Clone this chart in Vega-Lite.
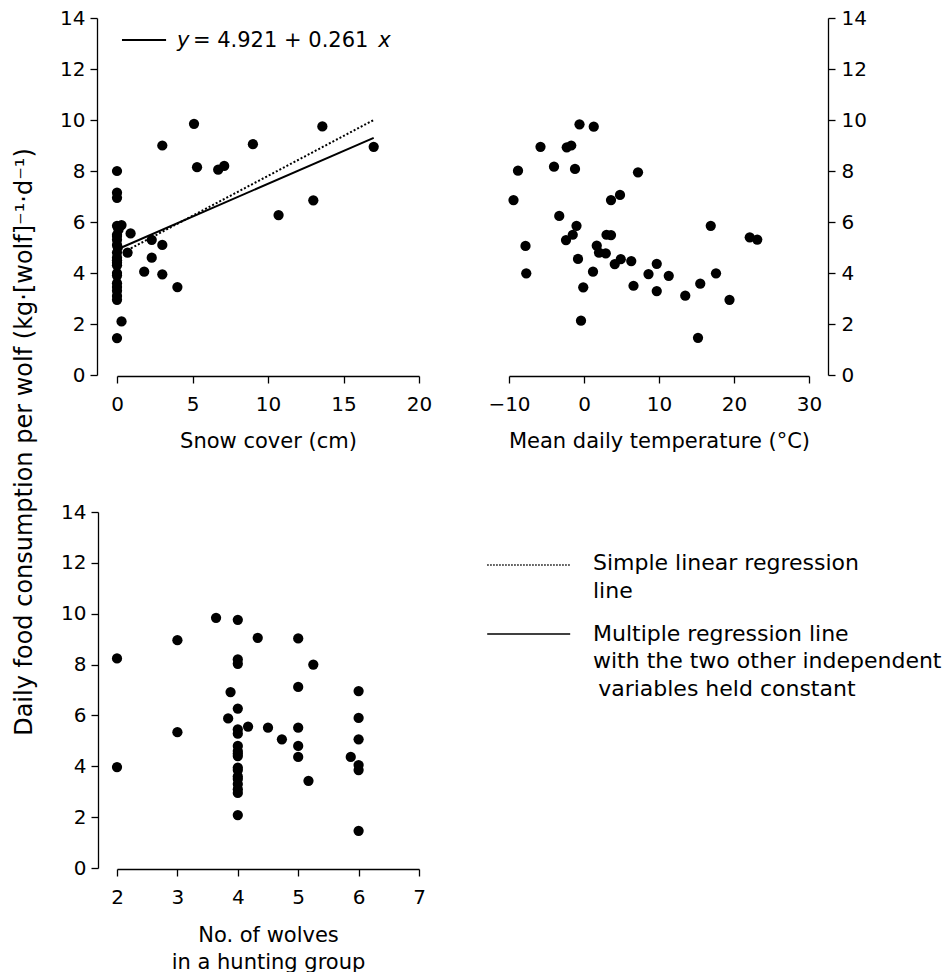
{
  "$schema": "https://vega.github.io/schema/vega-lite/v6.json",
  "padding": {"left": 12, "top": 8, "right": 0, "bottom": 0},
  "background": "white",
  "config": {
    "view": {"stroke": null},
    "font": "DejaVu Sans",
    "axis": {
      "domainColor": "black", "tickColor": "black", "labelColor": "black", "titleColor": "black",
      "labelFont": "DejaVu Sans", "titleFont": "DejaVu Sans",
      "labelFontSize": 20, "titleFontSize": 21, "titleFontWeight": "normal",
      "tickSize": 7, "domainWidth": 1.3, "tickWidth": 1.3, "grid": false,
      "labelFlush": false, "labelOverlap": false
    },
    "axisX": {"labelPadding": 11, "titlePadding": 16},
    "axisY": {"labelPadding": 5}
  },
  "title": {
    "text": "Daily food consumption per wolf (kg·[wolf]⁻¹·d⁻¹)",
    "orient": "left", "anchor": "middle", "dx": 48,
    "font": "DejaVu Sans", "fontSize": 24, "fontWeight": "normal", "color": "black", "offset": 23
  },
  "datasets": {
    "snow": [
      {"snow": 5.1, "food": 9.85}, {"snow": 3.0, "food": 9.0}, {"snow": 5.3, "food": 8.15}, {"snow": 6.7, "food": 8.05},
      {"snow": 7.1, "food": 8.2}, {"snow": 9.0, "food": 9.05}, {"snow": 13.6, "food": 9.75}, {"snow": 17.0, "food": 8.95},
      {"snow": 10.7, "food": 6.27}, {"snow": 13.0, "food": 6.85}, {"snow": 0.9, "food": 5.55}, {"snow": 2.3, "food": 5.3},
      {"snow": 3.0, "food": 5.1}, {"snow": 2.3, "food": 4.6}, {"snow": 0.7, "food": 4.8}, {"snow": 1.8, "food": 4.05},
      {"snow": 3.0, "food": 3.95}, {"snow": 4.0, "food": 3.45}, {"snow": 0.3, "food": 2.1}, {"snow": 0.0, "food": 1.45},
      {"snow": 0.0, "food": 8.0}, {"snow": 0.0, "food": 7.15}, {"snow": 0.0, "food": 6.95}, {"snow": 0.3, "food": 5.88},
      {"snow": 0.0, "food": 5.85}, {"snow": 0.1, "food": 5.7}, {"snow": 0.0, "food": 5.5}, {"snow": 0.0, "food": 5.45},
      {"snow": 0.0, "food": 5.3}, {"snow": 0.0, "food": 5.1}, {"snow": 0.05, "food": 5.0}, {"snow": 0.0, "food": 4.8},
      {"snow": 0.0, "food": 4.6}, {"snow": 0.0, "food": 4.5}, {"snow": 0.0, "food": 4.4}, {"snow": 0.0, "food": 4.3},
      {"snow": 0.0, "food": 4.0}, {"snow": 0.0, "food": 3.9}, {"snow": 0.0, "food": 3.6}, {"snow": 0.0, "food": 3.45},
      {"snow": 0.0, "food": 3.3}, {"snow": 0.0, "food": 3.1}, {"snow": 0.0, "food": 2.95}
    ],
    "temp": [
      {"temp": -0.6, "food": 9.83}, {"temp": 1.3, "food": 9.74}, {"temp": -5.8, "food": 8.95}, {"temp": -2.3, "food": 8.93},
      {"temp": -1.7, "food": 9.0}, {"temp": -8.8, "food": 8.01}, {"temp": -4.0, "food": 8.17}, {"temp": -1.2, "food": 8.08},
      {"temp": 7.2, "food": 7.95}, {"temp": -9.4, "food": 6.86}, {"temp": 3.6, "food": 6.86}, {"temp": 4.8, "food": 7.06},
      {"temp": -3.3, "food": 6.24}, {"temp": -1.0, "food": 5.85}, {"temp": -1.5, "food": 5.5}, {"temp": -2.4, "food": 5.29},
      {"temp": -7.8, "food": 5.06}, {"temp": 3.0, "food": 5.5}, {"temp": 3.6, "food": 5.49}, {"temp": 1.7, "food": 5.07},
      {"temp": 2.0, "food": 4.8}, {"temp": 2.9, "food": 4.77}, {"temp": -0.8, "food": 4.55}, {"temp": 4.1, "food": 4.35},
      {"temp": 4.9, "food": 4.54}, {"temp": 6.3, "food": 4.47}, {"temp": 9.7, "food": 4.36}, {"temp": -7.7, "food": 3.99},
      {"temp": 1.2, "food": 4.05}, {"temp": 8.6, "food": 3.96}, {"temp": 11.3, "food": 3.89}, {"temp": 17.6, "food": 3.99},
      {"temp": -0.1, "food": 3.44}, {"temp": 6.6, "food": 3.5}, {"temp": 9.7, "food": 3.29}, {"temp": 13.5, "food": 3.11},
      {"temp": 15.5, "food": 3.58}, {"temp": 19.4, "food": 2.95}, {"temp": -0.4, "food": 2.13}, {"temp": 15.2, "food": 1.46},
      {"temp": 16.9, "food": 5.85}, {"temp": 22.1, "food": 5.4}, {"temp": 23.1, "food": 5.31}
    ],
    "wolves": [
      {"wolves": 2, "food": 8.24}, {"wolves": 2, "food": 3.97}, {"wolves": 3, "food": 8.96}, {"wolves": 3, "food": 5.34},
      {"wolves": 3.64, "food": 9.84}, {"wolves": 4, "food": 9.76}, {"wolves": 4.33, "food": 9.05}, {"wolves": 5, "food": 9.03},
      {"wolves": 4, "food": 8.2}, {"wolves": 4, "food": 8.03}, {"wolves": 5.25, "food": 8.0}, {"wolves": 3.88, "food": 6.92},
      {"wolves": 5, "food": 7.12}, {"wolves": 6, "food": 6.96}, {"wolves": 4, "food": 6.27}, {"wolves": 3.84, "food": 5.88},
      {"wolves": 6, "food": 5.9}, {"wolves": 4.17, "food": 5.56}, {"wolves": 4.5, "food": 5.52}, {"wolves": 5, "food": 5.52},
      {"wolves": 4, "food": 5.45}, {"wolves": 4, "food": 5.28}, {"wolves": 4.73, "food": 5.06}, {"wolves": 6, "food": 5.06},
      {"wolves": 5, "food": 4.8}, {"wolves": 5, "food": 4.37}, {"wolves": 5.87, "food": 4.37}, {"wolves": 6, "food": 4.05},
      {"wolves": 6, "food": 3.85}, {"wolves": 5.17, "food": 3.43}, {"wolves": 4, "food": 2.08}, {"wolves": 6, "food": 1.46},
      {"wolves": 4, "food": 4.8}, {"wolves": 4, "food": 4.6}, {"wolves": 4, "food": 4.5}, {"wolves": 4, "food": 4.4},
      {"wolves": 4, "food": 3.95}, {"wolves": 4, "food": 3.85}, {"wolves": 4, "food": 3.6}, {"wolves": 4, "food": 3.5},
      {"wolves": 4, "food": 3.3}, {"wolves": 4, "food": 3.1}, {"wolves": 4, "food": 2.95}
    ],
    "fit": [
      {"kind": "simple", "snow": 0.45, "food": 4.82}, {"kind": "simple", "snow": 17.0, "food": 10.0},
      {"kind": "multiple", "snow": 0.3, "food": 5.0}, {"kind": "multiple", "snow": 17.0, "food": 9.3},
      {"kind": "key", "snow": 0.33, "food": 13.14}, {"kind": "key", "snow": 3.25, "food": 13.14}
    ],
    "eq": [
      {"snow": 3.97, "food": 13.1, "label": "y", "style": "italic"},
      {"snow": 5.03, "food": 13.1, "label": "= 4.921 + 0.261", "style": "normal"},
      {"snow": 17.3, "food": 13.1, "label": "x", "style": "italic"}
    ],
    "keylines": [
      {"kind": "simple", "lx": 0.4, "ly": 11.92}, {"kind": "simple", "lx": 2.33, "ly": 11.92},
      {"kind": "multiple", "lx": 0.4, "ly": 9.2}, {"kind": "multiple", "lx": 2.33, "ly": 9.2}
    ],
    "keytext": [
      {"lx": 2.86, "ly": 12.0, "label": "Simple linear regression"},
      {"lx": 2.86, "ly": 10.9, "label": "line"},
      {"lx": 2.86, "ly": 9.2, "label": "Multiple regression line"},
      {"lx": 2.86, "ly": 8.14, "label": "with the two other independent"},
      {"lx": 2.98, "ly": 7.04, "label": "variables held constant"}
    ]
  },
  "spacing": 51,
  "vconcat": [
    {
      "spacing": 55,
      "hconcat": [
        {
          "width": 302, "height": 357,
          "layer": [
            {
              "data": {"name": "snow"},
              "mark": {"type": "circle", "size": 105, "color": "black", "opacity": 1},
              "encoding": {
                "x": {"field": "snow", "type": "quantitative", "scale": {"domain": [0, 20], "nice": false, "zero": false},
                      "axis": {"values": [0, 5, 10, 15, 20], "title": "Snow cover (cm)", "offset": 1}},
                "y": {"field": "food", "type": "quantitative", "scale": {"domain": [0, 14], "nice": false},
                      "axis": {"values": [0, 2, 4, 6, 8, 10, 12, 14], "title": null, "offset": 20}}
              }
            },
            {
              "data": {"name": "fit"},
              "transform": [{"filter": "datum.kind == 'simple'"}],
              "mark": {"type": "line", "color": "black", "strokeWidth": 2, "strokeDash": [2, 2]},
              "encoding": {"x": {"field": "snow", "type": "quantitative"}, "y": {"field": "food", "type": "quantitative"}}
            },
            {
              "data": {"name": "fit"},
              "transform": [{"filter": "datum.kind != 'simple'"}],
              "mark": {"type": "line", "color": "black", "strokeWidth": 2},
              "encoding": {"x": {"field": "snow", "type": "quantitative"}, "y": {"field": "food", "type": "quantitative"}, "detail": {"field": "kind"}}
            },
            {
              "data": {"name": "eq"},
              "transform": [{"filter": "datum.style == 'normal'"}],
              "mark": {"type": "text", "align": "left", "baseline": "middle", "fontSize": 21, "font": "DejaVu Sans", "color": "black"},
              "encoding": {
                "x": {"field": "snow", "type": "quantitative"}, "y": {"field": "food", "type": "quantitative"},
                "text": {"field": "label"}
              }
            },
            {
              "data": {"name": "eq"},
              "transform": [{"filter": "datum.style == 'italic'"}],
              "mark": {"type": "text", "align": "left", "baseline": "middle", "fontSize": 21, "font": "DejaVu Sans", "fontStyle": "italic", "color": "black"},
              "encoding": {
                "x": {"field": "snow", "type": "quantitative"}, "y": {"field": "food", "type": "quantitative"},
                "text": {"field": "label"}
              }
            }
          ]
        },
        {
          "width": 300, "height": 357,
          "data": {"name": "temp"},
          "mark": {"type": "circle", "size": 105, "color": "black", "opacity": 1},
          "encoding": {
            "x": {"field": "temp", "type": "quantitative", "scale": {"domain": [-10, 30], "nice": false, "zero": false},
                  "axis": {"values": [-10, 0, 10, 20, 30], "title": "Mean daily temperature (°C)", "offset": 1}},
            "y": {"field": "food", "type": "quantitative", "scale": {"domain": [0, 14], "nice": false},
                  "axis": {"orient": "right", "values": [0, 2, 4, 6, 8, 10, 12, 14], "title": null, "offset": 19, "labelPadding": 6}}
          }
        }
      ]
    },
    {
      "spacing": 44,
      "hconcat": [
        {
          "width": 302, "height": 356,
          "data": {"name": "wolves"},
          "mark": {"type": "circle", "size": 105, "color": "black", "opacity": 1},
          "encoding": {
            "x": {"field": "wolves", "type": "quantitative", "scale": {"domain": [2, 7], "nice": false, "zero": false},
                  "axis": {"values": [2, 3, 4, 5, 6, 7], "title": ["No. of wolves", "in a hunting group"], "offset": 1, "titleLineHeight": 27, "titlePadding": 17}},
            "y": {"field": "food", "type": "quantitative", "scale": {"domain": [0, 14], "nice": false},
                  "axis": {"values": [0, 2, 4, 6, 8, 10, 12, 14], "title": null, "offset": 19}}
          }
        },
        {
          "width": 430, "height": 356,
          "layer": [
            {
              "data": {"name": "keylines"},
              "transform": [{"filter": "datum.kind == 'simple'"}],
              "mark": {"type": "line", "color": "black", "strokeWidth": 1.5, "strokeDash": [1.5, 1.5]},
              "encoding": {
                "x": {"field": "lx", "type": "quantitative", "scale": {"domain": [0, 10], "nice": false, "zero": false}, "axis": null},
                "y": {"field": "ly", "type": "quantitative", "scale": {"domain": [0, 14], "nice": false}, "axis": null}
              }
            },
            {
              "data": {"name": "keylines"},
              "transform": [{"filter": "datum.kind == 'multiple'"}],
              "mark": {"type": "line", "color": "black", "strokeWidth": 1.5},
              "encoding": {
                "x": {"field": "lx", "type": "quantitative"},
                "y": {"field": "ly", "type": "quantitative"}
              }
            },
            {
              "data": {"name": "keytext"},
              "mark": {"type": "text", "align": "left", "baseline": "middle", "fontSize": 22, "font": "DejaVu Sans", "color": "black"},
              "encoding": {
                "x": {"field": "lx", "type": "quantitative"},
                "y": {"field": "ly", "type": "quantitative"},
                "text": {"field": "label"}
              }
            }
          ]
        }
      ]
    }
  ]
}
